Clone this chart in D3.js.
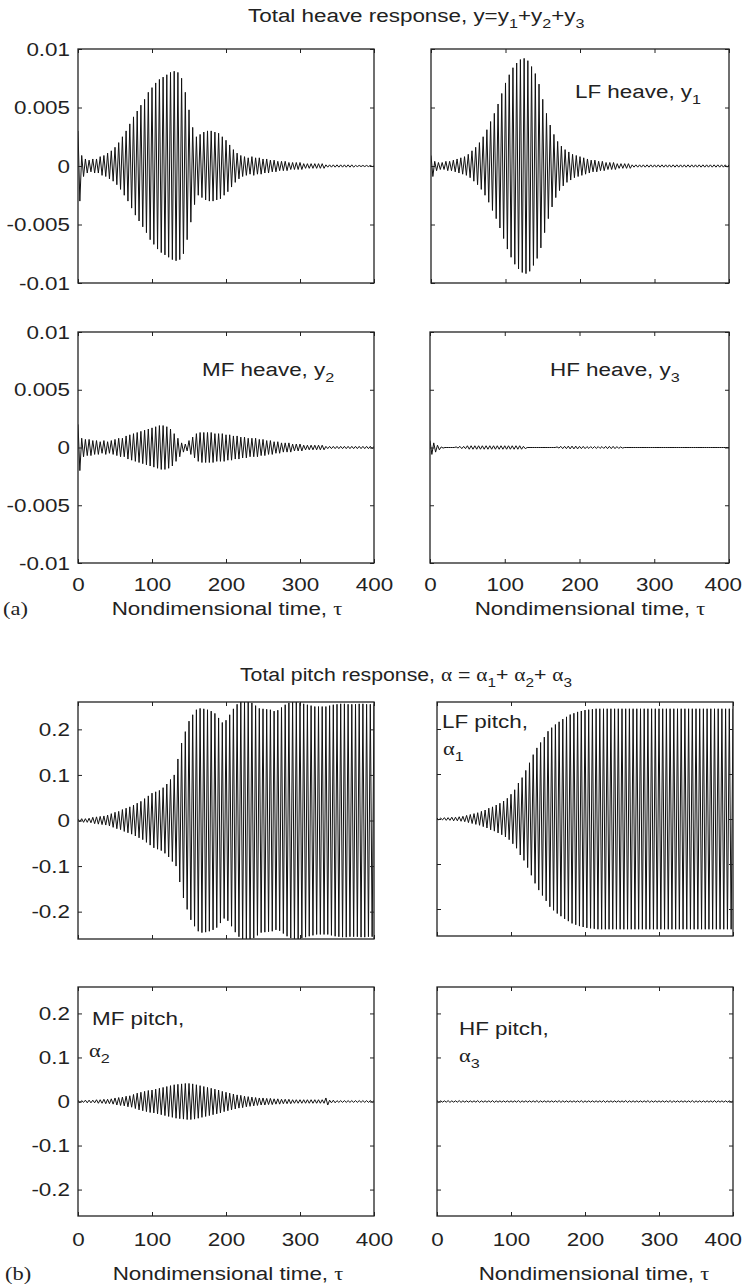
<!DOCTYPE html>
<html>
<head>
<meta charset="utf-8">
<script src="https://cdn.jsdelivr.net/npm/d3@7"></script>
<style>
  body { margin: 0; background: #fff; }
  svg text { font-family: "Liberation Sans", Arial, sans-serif; fill: #222; }
  .greek, .tag { font-family: "Liberation Serif", "Times New Roman", serif; }
</style>
</head>
<body>
<svg id="fig" width="748" height="1285"></svg>
<script>
// ---- data ----
const timeTicks = [0, 100, 200, 300, 400];
const heaveTicks = [-0.01, -0.005, 0, 0.005, 0.01];
const pitchTicks = [-0.2, -0.1, 0, 0.1, 0.2];

// oscillation period (time units) of each drawn cycle
const heaveCycle = 5;
const pitchCycle = 5;

// amplitude of each successive cycle, t = 0, cycle, 2*cycle ...
const heaveTotalPeaks = [
  .003, .0009, .0006, .0005, .0006, .0006, .0008, .0009, .0011, .0013,
  .0016, .002, .0025, .003, .0036, .0042, .0047, .0052, .0057, .0063,
  .0067, .0071, .0074, .0076, .0078, .008, .0081, .008, .0075, .0063,
  .0048, .0033, .0025, .0027, .0029, .003, .003, .0029, .0028, .0025,
  .0022, .0018, .0014, .0011, .0009, .0008, .0007, .0008, .0007, .0007,
  .0006, .0006, .0005, .0005, .0004, .0004, .0004, .0003, .0003, .0003,
  .0003, .0002, .0002, .0002, .0002, .0002, .0002, .0001, .0001, .0001,
  .0001, .0001, .0001, .0001, .0001, .00005, .00005, .00005, .00005, .00005,
  0
];
const heaveLFPeaks = [
  .0009, .0004, .0003, .0003, .0004, .0004, .0005, .0006, .0007, .0008,
  .001, .0013, .0016, .002, .0025, .0031, .0038, .0045, .0053, .0062,
  .0071, .0078, .0084, .0088, .0091, .0092, .009, .0085, .0079, .007,
  .0057, .0045, .0035, .0027, .0021, .0017, .0014, .0012, .001, .0009,
  .0008, .0007, .0006, .0005, .0005, .0004, .0004, .0003, .0003, .0003,
  .0002, .0002, .0002, .0002, .0001, .0001, .0001, .0001, .0001, .0001,
  .0001, .0001, .0001, .0001, .0001, .0001, .0001, .0001, .0001, .0001,
  .0001, .0001, .0001, .0001, .0001, .0001, .0001, .0001, .0001, .0001,
  .0001
];
const heaveMFPeaks = [
  .002, .0008, .0007, .0007, .0006, .0006, .0005, .0006, .0005, .0006,
  .0007, .0008, .0008, .001, .0011, .0012, .0013, .0014, .0015, .0016,
  .0017, .0018, .0019, .0019, .0018, .0016, .0012, .0008, .0004, .0003,
  .0006, .0009, .0012, .0013, .0013, .0013, .0013, .0012, .0012, .0012,
  .0011, .0011, .001, .001, .0009, .0009, .0008, .0008, .0008, .0007,
  .0007, .0006, .0006, .0005, .0005, .0004, .0004, .0004, .0003, .0003,
  .0003, .0002, .0002, .0002, .0002, .0002, .0002, .0001, .0001, .0001,
  .0001, .0001, .0001, .0001, .0001, .0001, .0001, .0001, .0001, .0001,
  .0001
];
const heaveHFPeaks = [
  .0006, .0004, .0002, .00005, 0, 0, 0, .00005, .0001, .0001,
  .00015, .00015, .00015, .00015, .00015, .00015, .00015, .00015, .00015, .00015,
  .00015, .00015, .00015, .00015, .00015, .0001, 0, 0, 0, 0,
  0, 0, 0, 0, .00005, .0001, .0001, .00012, .00012, .00012,
  .0001, .0001, .00008, .00008, .00008, .00008, .00008, .0001, .0001, .0001,
  .00008, .00005, 0, 0, 0, 0, 0, 0, 0, 0,
  0, 0, 0, 0, 0, 0, 0, 0, 0, 0,
  0, 0, 0, 0, 0, 0, 0, 0, 0, 0,
  0
];
const pitchTotalPeaks = [
  .003, .004, .004, .005, .007, .008, .009, .01, .012, .015,
  .018, .02, .024, .027, .03, .034, .038, .042, .048, .054,
  .06, .063, .066, .072, .08, .09, .1, .135, .17, .195,
  .218, .232, .243, .246, .245, .243, .24, .235, .225, .215,
  .22, .232, .245, .255, .26, .26, .26, .258, .252, .246,
  .245, .244, .243, .24, .242, .248, .254, .258, .26, .26,
  .258, .256, .254, .252, .25, .25, .25, .25, .252, .254,
  .255, .256, .256, .255, .255, .255, .256, .256, .255, .255,
  .255
];
const pitchLFPeaks = [
  .002, .002, .003, .003, .004, .004, .005, .006, .008, .01,
  .012, .014, .017, .02, .024, .027, .031, .035, .04, .046,
  .055, .065, .08, .092, .108, .125, .143, .158, .17, .182,
  .195, .203, .21, .216, .222, .227, .232, .235, .238, .24,
  .242, .243, .244, .245, .245, .245, .245, .245, .245, .245,
  .245, .245, .245, .245, .245, .245, .245, .245, .245, .245,
  .245, .245, .245, .245, .245, .245, .245, .245, .245, .245,
  .245, .245, .245, .245, .245, .245, .245, .245, .245, .245,
  .245
];
const pitchMFPeaks = [
  .003, .002, .003, .003, .003, .004, .004, .005, .005, .006,
  .008, .009, .01, .012, .013, .016, .019, .021, .023, .025,
  .026, .028, .03, .032, .034, .036, .038, .039, .04, .041,
  .041, .04, .038, .036, .034, .032, .03, .028, .026, .023,
  .021, .019, .017, .015, .014, .012, .011, .01, .009, .008,
  .008, .007, .007, .006, .006, .005, .005, .005, .004, .004,
  .004, .004, .004, .004, .004, .004, .004, .008, .003, .003,
  .002, .002, .002, .002, .002, .002, .002, .002, .002, .002,
  .002
];
const pitchHFPeaks = [
  .002, .0015, .0015, .002, .0015, .0015, .002, .0015, .0015, .0015,
  .0015, .002, .0015, .0015, .0015, .002, .0015, .0015, .0015, .0015,
  .0015, .0015, .002, .0015, .0015, .0015, .0015, .002, .0015, .0015,
  .0015, .0015, .0015, .002, .0015, .0015, .0015, .0015, .0015, .002,
  .0015, .0015, .0015, .0015, .0015, .002, .0015, .0015, .0015, .0015,
  .0015, .002, .0015, .0015, .0015, .0015, .0015, .002, .0015, .0015,
  .0015, .0015, .0015, .002, .0015, .0015, .0015, .0015, .0015, .002,
  .0015, .0015, .0015, .0015, .0015, .002, .0015, .0015, .0015, .0015,
  .0015
];

// ---- layout ----
const svg = d3.select('#fig');
const fontSize = 19;
const textStretch = 1.18; // the printed lettering is wider than Liberation Sans
const rightLimit = 742;   // tick labels are kept inside the page

const panels = [
  { key: 'hT', left: 78, right: 374, top: 49, bottom: 283, yDomain: [-0.01, 0.01], yTicks: heaveTicks,
    peaks: heaveTotalPeaks, cycle: heaveCycle, yLabels: true, xLabels: false },
  { key: 'hLF', left: 431, right: 729, top: 49, bottom: 283, yDomain: [-0.01, 0.01], yTicks: heaveTicks,
    peaks: heaveLFPeaks, cycle: heaveCycle, yLabels: false, xLabels: false,
    label: [{ x: 575, y: 98, parts: [['LF heave, y'], ['1', 'sub']] }] },
  { key: 'hMF', left: 78, right: 374, top: 332, bottom: 563, yDomain: [-0.01, 0.01], yTicks: heaveTicks,
    peaks: heaveMFPeaks, cycle: heaveCycle, yLabels: true, xLabels: true, xPad: 15, titleX: 227, titleY: 615,
    label: [{ x: 202, y: 376, parts: [['MF heave, y'], ['2', 'sub']] }] },
  { key: 'hHF', left: 430, right: 729, top: 332, bottom: 563, yDomain: [-0.01, 0.01], yTicks: heaveTicks,
    peaks: heaveHFPeaks, cycle: heaveCycle, yLabels: false, xLabels: true, xPad: 15, titleX: 590, titleY: 615,
    label: [{ x: 550, y: 376, parts: [['HF heave, y'], ['3', 'sub']] }] },
  { key: 'pT', left: 78, right: 374, top: 702, bottom: 939, yDomain: [-0.26, 0.26], yTicks: pitchTicks,
    peaks: pitchTotalPeaks, cycle: pitchCycle, yLabels: true, xLabels: false },
  { key: 'pLF', left: 437, right: 733, top: 702, bottom: 936, yDomain: [-0.26, 0.26], yTicks: pitchTicks,
    peaks: pitchLFPeaks, cycle: pitchCycle, yLabels: false, xLabels: false,
    label: [{ x: 442, y: 728, parts: [['LF pitch,']] }, { x: 443, y: 755, parts: [['\u03b1', 'greek'], ['1', 'sub']] }] },
  { key: 'pMF', left: 78, right: 374, top: 987, bottom: 1216, yDomain: [-0.26, 0.26], yTicks: pitchTicks,
    peaks: pitchMFPeaks, cycle: pitchCycle, yLabels: true, xLabels: true, xPad: 17, titleX: 228, titleY: 1280,
    label: [{ x: 92, y: 1025, parts: [['MF pitch,']] }, { x: 89, y: 1057, parts: [['\u03b1', 'greek'], ['2', 'sub']] }] },
  { key: 'pHF', left: 437, right: 733, top: 987, bottom: 1216, yDomain: [-0.26, 0.26], yTicks: pitchTicks,
    peaks: pitchHFPeaks, cycle: pitchCycle, yLabels: false, xLabels: true, xPad: 17, titleX: 594, titleY: 1280,
    label: [{ x: 459, y: 1035, parts: [['HF pitch,']] }, { x: 459, y: 1062, parts: [['\u03b1', 'greek'], ['3', 'sub']] }] }
];

// writes a run of text pieces, subscripts dropped and shrunk
function richText(sel, x, y, parts, size, anchor) {
  const t = sel.append('text')
    .attr('x', x).attr('y', y)
    .attr('font-size', size)
    .attr('text-anchor', anchor || 'start');
  let low = false;
  parts.forEach(([s, kind]) => {
    const sp = t.append('tspan').text(s);
    if (kind === 'sub') {
      sp.attr('font-size', size * 0.72);
      if (!low) sp.attr('dy', size * 0.3);
      low = true;
    } else {
      if (low) sp.attr('dy', -size * 0.3);
      low = false;
      if (kind === 'greek') sp.attr('class', 'greek');
    }
  });
  return t;
}

function drawPanel(p) {
  const x = d3.scaleLinear().domain([0, 400]).range([p.left, p.right]);
  const y = d3.scaleLinear().domain(p.yDomain).range([p.bottom, p.top]);
  const g = svg.append('g').attr('class', 'panel ' + p.key);

  g.append('clipPath').attr('id', 'clip-' + p.key)
    .append('rect')
    .attr('x', p.left).attr('y', p.top)
    .attr('width', p.right - p.left).attr('height', p.bottom - p.top);

  // each cycle: crest at its start, trough half a period later
  const pts = p.peaks.flatMap((a, i) => {
    const t = i * p.cycle;
    return t + p.cycle / 2 <= 400 ? [[t, a], [t + p.cycle / 2, -a]] : [[t, a]];
  });
  const line = d3.line().x(d => x(d[0])).y(d => y(d[1]));
  g.append('path')
    .datum(pts)
    .attr('clip-path', `url(#clip-${p.key})`)
    .attr('d', line)
    .attr('fill', 'none')
    .attr('stroke', '#111')
    .attr('stroke-width', 1);

  const noLabel = () => '';
  const styleAxis = a => {
    a.select('.domain').remove();
    a.attr('font-size', fontSize).attr('font-family', null);
    a.selectAll('line').attr('stroke', '#222');
    a.selectAll('text').attr('fill', '#222');
  };

  g.append('g').attr('transform', `translate(${p.left},0)`)
    .call(d3.axisLeft(y).tickValues(p.yTicks).tickSizeInner(-4).tickSizeOuter(0).tickPadding(8)
      .tickFormat(p.yLabels ? d => String(d) : noLabel))
    .call(styleAxis);
  g.append('g').attr('transform', `translate(${p.right},0)`)
    .call(d3.axisRight(y).tickValues(p.yTicks).tickSizeInner(-4).tickSizeOuter(0).tickFormat(noLabel))
    .call(styleAxis);
  g.append('g').attr('class', 'xaxis').attr('transform', `translate(0,${p.bottom})`)
    .call(d3.axisBottom(x).tickValues(timeTicks).tickSizeInner(-4).tickSizeOuter(0).tickPadding(p.xPad || 0)
      .tickFormat(p.xLabels ? d => String(d) : noLabel))
    .call(styleAxis);
  g.append('g').attr('transform', `translate(0,${p.top})`)
    .call(d3.axisTop(x).tickValues(timeTicks).tickSizeInner(-4).tickSizeOuter(0).tickFormat(noLabel))
    .call(styleAxis);

  g.append('rect')
    .attr('x', p.left).attr('y', p.top)
    .attr('width', p.right - p.left).attr('height', p.bottom - p.top)
    .attr('fill', 'none').attr('stroke', '#222').attr('stroke-width', 1.3);

  (p.label || []).forEach(l => richText(g, l.x, l.y, l.parts, fontSize));

  if (p.xLabels) {
    richText(g, p.titleX, p.titleY, [['Nondimensional time, '], ['\u03c4', 'greek']], fontSize, 'middle');
  }
}

panels.forEach(drawPanel);

// figure titles and part tags
richText(svg, 248, 22,
  [['Total heave response, y=y'], ['1', 'sub'], ['+y'], ['2', 'sub'], ['+y'], ['3', 'sub']], fontSize);
richText(svg, 240, 681,
  [['Total pitch response, '], ['\u03b1', 'greek'], [' = '], ['\u03b1', 'greek'], ['1', 'sub'], ['+ '],
   ['\u03b1', 'greek'], ['2', 'sub'], ['+ '], ['\u03b1', 'greek'], ['3', 'sub']], fontSize)
  .attr('class', 'pitchTitle');
svg.append('text').attr('class', 'tag').attr('x', 3).attr('y', 615).attr('font-size', fontSize).text('(a)');
svg.append('text').attr('class', 'tag').attr('x', 5).attr('y', 1280).attr('font-size', fontSize).text('(b)');

// widen all lettering about its anchor point
svg.selectAll('text').each(function () {
  const el = d3.select(this);
  const ax = +el.attr('x') || 0;
  const k = el.classed('pitchTitle') ? 1.12 : textStretch;
  el.attr('transform', `translate(${ax},0) scale(${k},1) translate(${-ax},0)`);
});

// pull the last time label back inside the page edge
svg.selectAll('.xaxis .tick text').each(function () {
  const r = this.getBoundingClientRect();
  if (r.right > rightLimit) {
    const el = d3.select(this);
    el.attr('transform', `translate(${rightLimit - r.right},0) ` + el.attr('transform'));
  }
});
</script>
</body>
</html>
